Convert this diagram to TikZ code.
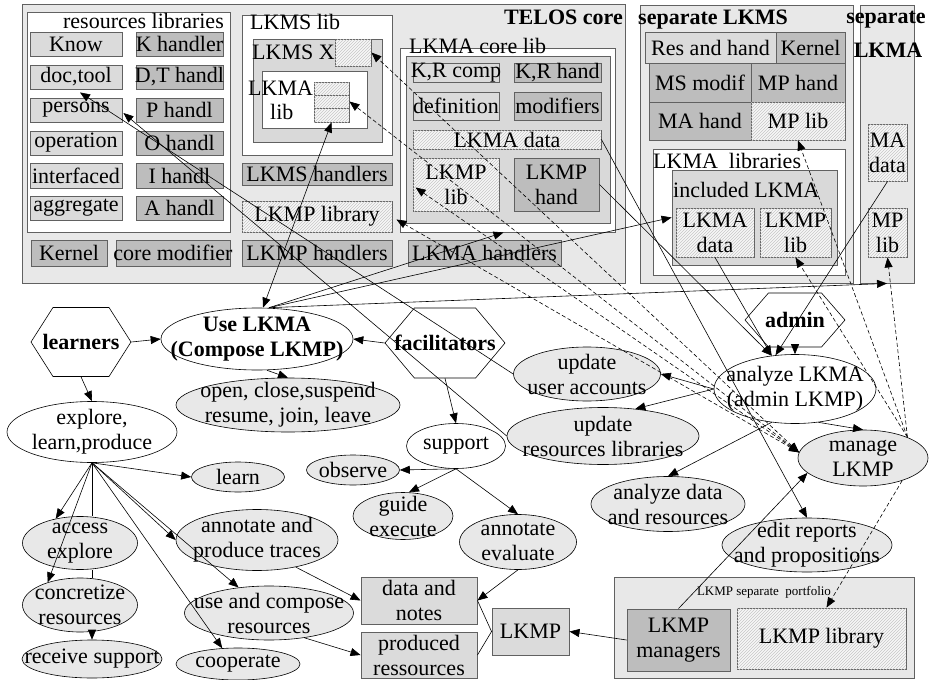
\documentclass[tikz,border=0pt]{standalone}
\usepackage{fontspec}
\setmainfont{Liberation Serif}
\usetikzlibrary{shapes.geometric,shapes.symbols,arrows.meta,patterns,calc}
\newcommand\fs{\fontsize{22}{25}\selectfont}
\newcommand\bx[7]{\node[#6, minimum width={(#4)-(#2)}, minimum height={(#5)-(#3)}] (#1) at ({((#2)+(#4))/2},{((#3)+(#5))/2}) {};\node[txt] (#1-t) at (#1.center) {#7};}
\newcommand\cb[6]{\node[#6, minimum width={(#4)-(#2)}, minimum height={(#5)-(#3)}] (#1) at ({((#2)+(#4))/2},{((#3)+(#5))/2}) {};}
\newcommand\el[7]{\node[#6, minimum width=#4, minimum height=#5] (#1) at (#2,#3) {};\node[txt] (#1-t) at (#1.center) {#7};}
\newcommand\hx[7]{\node[hex, minimum width=#4, minimum height=#5, signal pointer angle=#6] (#1) at (#2,#3) {};\node[btxt] (#1-t) at (#1.center) {#7};}
\begin{document}
\begin{tikzpicture}[x=1pt,y=-1pt,
 txt/.style={font=\fs, align=center, inner sep=0pt},
 btxt/.style={font=\fs\bfseries, align=center, inner sep=0pt},
 stxt/.style={font=\fontsize{13}{15}\selectfont, inner sep=0pt},
 tbox/.style={rectangle, draw=black!62, line width=0.9pt, inner sep=0pt},
 bgbox/.style={tbox, fill=black!9},
 whbox/.style={tbox, fill=white},
 ltbox/.style={tbox, fill=black!14},
 mdbox/.style={tbox, fill=black!15},
 dkbox/.style={tbox, fill=black!26},
 htbox/.style={tbox, fill=black!3, postaction={pattern=north east lines, pattern color=black!22}},
 wel/.style={ellipse, draw=black, line width=0.6pt, fill=white, inner sep=0pt},
 gel/.style={wel, fill=black!9},
 hex/.style={shape=signal, signal to=east and west, draw=black, line width=0.6pt, fill=white, inner sep=0pt},
 con/.style={line width=0.6pt, black},
 arr/.style={con, -{Triangle[length=10pt,width=8pt]}},
 darr/.style={con, {Triangle[length=10pt,width=8pt]}-{Triangle[length=10pt,width=8pt]}},
 dsh/.style={dash pattern=on 4pt off 2.5pt}]
\useasboundingbox (0,0) rectangle (930,680);
\fill[white] (0,0) rectangle (930,680);
% ---------- TELOS core
\cb{telos}{22}{4}{625}{283}{bgbox}
\cb{reslib}{27}{12}{230}{232}{whbox}
\bx{know}{30}{32}{122}{56}{ltbox}{Know}
\bx{doctool}{30}{65}{122}{89}{ltbox}{doc,tool}
\bx{persons}{30}{98}{122}{122}{ltbox}{persons}
\bx{operation}{30}{131}{122}{155}{ltbox}{operation}
\bx{interfaced}{30}{163}{122}{188}{ltbox}{interfaced}
\bx{aggregate}{30}{196}{122}{220}{ltbox}{aggregate}
\bx{khand}{136}{32}{223}{56}{dkbox}{K handler}
\bx{dthand}{136}{65}{223}{89}{dkbox}{D,T handl}
\bx{phand}{136}{98}{223}{122}{dkbox}{P handl}
\bx{ohand}{136}{131}{223}{155}{dkbox}{O handl}
\bx{ihand}{136}{163}{223}{188}{dkbox}{I handl}
\bx{ahand}{136}{196}{223}{220}{dkbox}{A handl}
\bx{kernel}{31}{240}{107}{266}{dkbox}{Kernel}
\bx{coremod}{116}{240}{230}{266}{dkbox}{core modifier}
\bx{lkmphandlers}{242}{240}{392}{266}{dkbox}{LKMP handlers}
\bx{lkmahandlers}{408}{240}{561}{266}{dkbox}{LKMA handlers}
\cb{lkmslib}{242}{15}{392}{155}{whbox}
\cb{lkmsx}{253}{39}{382}{142}{mdbox}
\cb{lsx}{335}{39}{371}{66}{htbox}
\cb{lkmalib}{262}{71}{367}{128}{whbox}
\cb{s1}{314}{82}{349}{95}{htbox}
\cb{s2}{314}{95}{349}{108}{htbox}
\cb{s3}{314}{108}{349}{122}{htbox}
\bx{lkmshandlers}{242}{163}{392}{185}{dkbox}{LKMS handlers}
\bx{lkmplibrary}{242}{201}{392}{232}{htbox}{LKMP library}
\cb{lkmacore}{400}{48}{615}{232}{whbox}
\cb{coreinner}{406}{56}{610}{223}{mdbox}
\bx{krcomp}{413}{63}{499}{82}{ltbox}{K,R comp}
\bx{krhand}{514}{63}{601}{82}{dkbox}{K,R hand}
\bx{definition}{413}{92}{499}{120}{ltbox}{definition}
\bx{modifiers}{514}{92}{601}{120}{dkbox}{modifiers}
\bx{lkmadata}{413}{130}{601}{149}{htbox}{LKMA data}
\bx{lkmplib}{413}{158}{499}{211}{htbox}{LKMP\\lib}
\bx{lkmphand}{514}{158}{599}{211}{dkbox}{LKMP\\hand}
\node[txt, anchor=east] (ttl-res) at (224,21) {resources libraries};
\node[txt, anchor=west] (ttl-lkmslib) at (250,22) {LKMS lib};
\node[txt, anchor=west] (ttl-lkmsx) at (252,52) {LKMS X};
\node[txt, anchor=west] (ttl-lkma) at (248,88) {LKMA};
\node[txt, anchor=west] (ttl-lib) at (270,112) {lib};
\node[txt, anchor=west] (ttl-core) at (409,46) {LKMA core lib};
\node[btxt, anchor=east] (ttl-telos) at (623,17) {TELOS core};
% ---------- separate LKMS
\cb{seplkms}{640}{5}{853}{283}{bgbox}
\node[btxt, anchor=west] (ttl-seplkms) at (638,20) {separate LKMS};
\bx{reshand}{645}{32}{776}{63}{ltbox}{Res and hand}
\bx{kernel2}{776}{32}{845}{63}{dkbox}{Kernel}
\bx{msmodif}{649}{63}{751}{102}{dkbox}{MS modif}
\bx{mphand}{751}{63}{845}{102}{dkbox}{MP hand}
\bx{mahand}{649}{102}{751}{140}{dkbox}{MA hand}
\bx{mplib}{751}{102}{845}{140}{htbox}{MP lib}
\cb{lkmalibs}{653}{149}{845}{275}{whbox}
\node[txt, anchor=west] (ttl-lkmalibs) at (653,161) {LKMA\ \ libraries};
\cb{incl}{672}{170}{837}{265}{mdbox}
\node[txt, anchor=west] (ttl-incl) at (673,190) {included LKMA};
\bx{ildata}{676}{208}{754}{257}{htbox}{LKMA\\data}
\bx{illib}{760}{208}{831}{257}{htbox}{LKMP\\lib}
% ---------- separate LKMA
\cb{seplkma}{860}{5}{914}{283}{bgbox}
\node[btxt] (ttl-sep) at (886,20) {separate};
\node[btxt] (ttl-sepb) at (888,50) {LKMA};
\bx{madata}{868}{124}{907}{181}{htbox}{MA\\data}
\bx{mplib2}{868}{208}{907}{257}{htbox}{MP\\lib}
% ---------- actors
\hx{learners}{81}{342}{100}{69}{115}{learners}
\hx{facil}{445}{343}{120}{70}{100}{facilitators}
\hx{admin}{795}{320}{100}{54}{98}{admin}
% ---------- ellipses
\node[wel, minimum width=192, minimum height=62] (use) at (257,339) {};
\node[btxt] (use-t) at (use.center) {Use LKMA\\(Compose LKMP)};
\el{open}{288}{405}{224}{54}{gel}{open, close,suspend\\resume, join, leave}
\el{explore}{92}{432}{170}{61}{wel}{explore,\\learn,produce}
\el{support}{456}{446}{99}{45}{wel}{support}
\el{upduser}{587}{374}{147}{54}{gel}{update\\user accounts}
\el{ures}{603}{436}{192}{57}{gel}{update\\resources libraries}
\el{analyze}{795}{389}{162}{69}{wel}{analyze LKMA\\(admin LKMP)}
\el{manage}{863}{458}{130}{56}{gel}{manage\\LKMP}
\el{adata}{668}{504}{154}{55}{gel}{analyze data\\and resources}
\el{edit}{807}{545}{170}{54}{gel}{edit reports\\and propositions}
\el{learn}{238}{477}{93}{30}{gel}{learn}
\el{observe}{353}{470}{93}{30}{gel}{observe}
\el{guide}{403}{516}{100}{47}{gel}{guide\\execute}
\el{anneval}{518}{542}{117}{55}{gel}{annotate\\evaluate}
\el{access}{80}{543}{115}{53}{gel}{access\\explore}
\el{conc}{80}{605}{115}{54}{gel}{concretize\\resources}
\el{receive}{92}{659}{140}{38}{gel}{receive support}
\el{annprod}{257}{540}{162}{61}{gel}{annotate and\\produce traces}
\el{usecomp}{269}{613}{169}{54}{gel}{use and compose\\resources}
\el{coop}{238}{664}{124}{32}{gel}{cooperate}
% ---------- lower boxes
\bx{datanotes}{361}{577}{477}{624}{ltbox}{data and\\notes}
\bx{produced}{361}{632}{477}{678}{ltbox}{produced\\ressources}
\bx{lkmp}{492}{608}{569}{655}{ltbox}{LKMP}
\cb{portfolio}{614}{577}{914}{678}{bgbox}
\node[stxt] (ttl-port) at (764,592) {LKMP separate\ \ portfolio};
\bx{managers}{627}{609}{730}{671}{dkbox}{LKMP\\managers}
\bx{plib}{737}{608}{906}{669}{htbox}{LKMP library}
% ---------- connectors
\coordinate (usetop) at ($(use.north)+(12,0)$);
\draw[darr] (s3.south) -- ($(use.north)+(6,0)$);
\draw[arr] (usetop) -- ($(lkmacore.south)+(-4,0)$);
\draw[arr] (usetop) -- (incl.west);
\draw[arr] (usetop) -- (seplkma.south);
\draw[arr] (learners.east) -- (use.west);
\draw[arr] (facil.west) -- (use.east);
\draw[arr] ($(use.south)+(10,0)$) -- (open.north);
\draw[arr] (learners.south) -- (explore.north);
\draw[arr] (facil.south) -- (support.north);
\draw[arr] (support.south) -- (observe.east);
\draw[arr] (support.south) -- ($(guide.north)+(6,0)$);
\draw[arr] (support.south) -- (anneval.north);
\draw[arr] (anneval.south) -- (datanotes.east);
\draw[arr] (annprod.-35) -- (datanotes.west);
\draw[arr] (usecomp.-35) -- (produced.west);
\draw[con] (datanotes.east) -- (lkmp.west) -- (produced.east);
\draw[arr] (managers.west) -- (lkmp.east);
\draw[arr] (managers.north) -- (manage.195);
\draw[arr] (explore.south) -- (learn.west);
\draw[arr] (explore.south) -- (access.135);
\draw[arr] (explore.south) -- (conc.145);
\draw[con] (explore.south) -- (explore.south |- access.north);
\draw[con] (explore.south |- access.south) -- (explore.south |- conc.north);
\draw[arr] (explore.south |- conc.south) -- (receive.north);
\draw[arr] (explore.south) -- (annprod.west);
\draw[arr] (explore.south) -- (usecomp.140);
\draw[arr] (explore.south) -- (coop.135);
\draw[arr] (admin.south) -- (analyze.north);
\draw[arr] (analyze.west) -- (upduser.east);
\draw[arr] (analyze.west) -- (ures.40);
\draw[arr] (analyze.-125) -- (adata.north);
\draw[arr] (analyze.-55) -- (manage.north);
\draw[arr] (upduser.west) -- ($(doctool.south)+(4,3)$);
\draw[arr] (ures.west) -- ($(persons.east)+(1,3)$);
\draw[arr] (lkmphand.east) -- (analyze.125);
\draw[arr] (lkmadata.east) -- (edit.north);
\draw[arr] (ildata.south) -- (analyze.125);
\draw[arr] (madata.south) -- (analyze.120);
\draw[darr,dsh] (manage.175) -- (lsx.east);
\draw[darr,dsh] (manage.175) -- (s2.east);
\draw[darr,dsh] (manage.175) -- ($(lkmplib.west)+(3,3)$);
\draw[darr,dsh] (manage.175) -- ($(lkmplibrary.east)+(4,3)$);
\draw[arr,dsh] (manage.25) -- (mplib.south);
\draw[arr,dsh] (manage.25) -- (illib.south);
\draw[arr,dsh] (manage.25) -- (mplib2.south);
\draw[arr,dsh] (manage.-30) -- ($(plib.north)+(5,0)$);
\end{tikzpicture}
\end{document}
